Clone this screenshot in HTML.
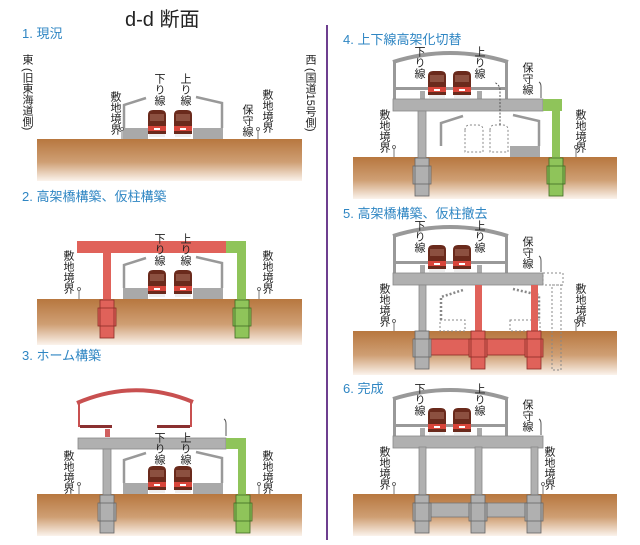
<!DOCTYPE html>
<html><head><meta charset="utf-8"><style>
html,body{margin:0;padding:0;background:#fff;}
svg{display:block;}
text{font-family:"Liberation Sans","Noto Sans CJK JP",sans-serif;}
.v{writing-mode:vertical-rl;font-size:11px;fill:#222;}
.t{font-size:13px;fill:#2f86c3;}
</style></head><body>
<svg id="s" width="640" height="545" viewBox="0 0 640 545" xmlns="http://www.w3.org/2000/svg">
<defs>
<linearGradient id="g" x1="0" y1="0" x2="0" y2="1">
<stop offset="0" stop-color="#b7773f"/><stop offset="0.55" stop-color="#cf9f74"/><stop offset="1" stop-color="#fbf3ec"/>
</linearGradient>
<g id="tr">
<path d="M0,5 Q0,0 5,0 H13 Q18,0 18,5 V24 H0 Z" fill="#6a2a1c"/>
<rect x="2" y="4" width="14" height="7" fill="#8c5040"/>
<rect x="0" y="16" width="18" height="5" fill="#d8453a"/>
<rect x="1" y="24" width="16" height="3" fill="#eee"/>
<rect x="6" y="18" width="6" height="2" fill="#fff"/>
</g>
<g id="trd" fill="none" stroke="#888" stroke-dasharray="2,2">
<path d="M0,5 Q0,0 5,0 H13 Q18,0 18,5 V27 H0 Z"/>
</g>
</defs>
<line x1="327" y1="25" x2="327" y2="540" stroke="#6d3f8f" stroke-width="2"/>
<text x="125" y="26" font-size="20" fill="#222">d-d 断面</text>
</svg>
<script>
var s=document.getElementById('s'),h='';
function R(x,y,w,hh,f,st){h+='<rect x="'+x+'" y="'+y+'" width="'+w+'" height="'+hh+'" fill="'+f+'"'+(st?' stroke="'+st+'" stroke-width="0.8"':'')+'/>';}
function T(x,y,t,c){h+='<text x="'+x+'" y="'+y+'" class="'+(c||'v')+'">'+t+'</text>';}
function ground(x1,x2,y,hh){R(x1,y,x2-x1,hh,'url(#g)');}
function train(x,y,d){h+='<use href="#'+(d?'trd':'tr')+'" x="'+x+'" y="'+y+'"/>';}
function post(x,y){h+='<line x1="'+x+'" y1="'+(y-9)+'" x2="'+x+'" y2="'+y+'" stroke="#555" stroke-width="0.8"/><circle cx="'+x+'" cy="'+(y-10)+'" r="1.5" fill="#fff" stroke="#555" stroke-width="0.8"/>';}
function oldSt(y,d){
 var s=d?' stroke-dasharray="2,2" stroke="#888"':' stroke="#999"';
 if(!d){R(123,y-11,25,11,'#a9a9a9');R(193,y-11,30,11,'#a9a9a9');}
 else{h+='<rect x="123" y="'+(y-11)+'" width="25" height="11" fill="none"'+s+'/><rect x="193" y="'+(y-11)+'" width="30" height="11" fill="none"'+s+'/>';}
 h+='<path d="M124,'+(y-11)+' V'+(y-34)+' L146,'+(y-41)+'" fill="none" stroke-width="2.5"'+s+'/>';
 h+='<path d="M196,'+(y-42)+' L222,'+(y-36)+' V'+(y-11)+'" fill="none" stroke-width="2.5"'+s+'/>';
}
function pile(x,y,c,sc){R(x+2,y,14,38,c);R(x,y+8,18,18,c,sc);R(x+2,y,14,38,'none',sc);}
// Panel 1
T(22,38,'1. 現況','t');
T(27,54,'東');T(27,68,'(旧東海道側)');
T(310,54,'西');T(310,68,'(国道15号側)');
ground(37,302,139,42);
oldSt(139);train(148,110);train(174,110);
T(159,73,'下り線');T(185,73,'上り線');
T(115,91,'敷地境界');T(247,104,'保守線');T(267,89,'敷地境界');
post(122,139);post(258,139);
// Panel 2
T(22,201,'2. 高架橋構築、仮柱構築','t');
ground(37,302,299,46);
oldSt(299);train(148,270);train(174,270);
R(77,241,149,12,'#e0625a');R(226,241,20,12,'#8fc45a');
R(103,253,8,47,'#e0625a');R(237,253,9,47,'#8fc45a');
pile(98,300,'#e0625a','#8a2c26');pile(233,300,'#8fc45a','#3f6b22');
T(159,233,'下り線');T(185,233,'上り線');
T(68,250,'敷地境界');T(267,250,'敷地境界');
post(79,299);post(259,299);
// Panel 3
T(22,360,'3. ホーム構築','t');
ground(37,302,494,42);
oldSt(494);train(148,466);train(174,466);
h+='<path d="M77,403 Q135,378 193,402" fill="none" stroke="#c85050" stroke-width="4"/>';
R(78,403,2,24,'#c85050');R(190,403,2,24,'#c85050');
R(80,425,32,3,'#8a3030');R(157,425,33,3,'#8a3030');R(105,429,5,8,'#d06060');
h+='<path d="M224,419 Q226,420 226,424 V436" fill="none" stroke="#555"/>';
R(78,438,148,11,'#b0b0b0','#888');R(226,438,20,11,'#8fc45a');
R(103,449,8,46,'#b0b0b0','#888');R(238,449,8,46,'#8fc45a');
pile(98,495,'#b0b0b0','#666');pile(234,495,'#8fc45a','#3f6b22');
T(159,432,'下り線');T(185,432,'上り線');
T(68,450,'敷地境界');T(267,450,'敷地境界');
post(79,494);post(259,494);
function upper(dy){
 h+='<path d="M393,'+(62+dy)+' Q450,'+(44+dy)+' 508,'+(62+dy)+'" fill="none" stroke="#999" stroke-width="4"/>';
 R(393,62+dy,3,38,'#999');R(505,62+dy,3,38,'#999');
 R(396,87+dy,112,3,'#999');
 R(420,91+dy,5,8,'#aaa');R(477,91+dy,5,8,'#aaa');
 train(428,71+dy);train(453,71+dy);
 h+='<path d="M539,'+(82+dy)+' Q541,'+(83+dy)+' 541,'+(87+dy)+' V'+(98+dy)+'" fill="none" stroke="#555"/>';
 R(393,99+dy,150,12,'#b0b0b0','#888');
 T(419,46+dy,'下り線');T(479,46+dy,'上り線');T(527,62+dy,'保守線');
}
// Panel 4
T(343,44,'4. 上下線高架化切替','t');
ground(353,617,157,42);
upper(0);
R(543,99,19,12,'#8fc45a');R(552,111,8,47,'#8fc45a');
R(418,111,8,47,'#b0b0b0','#888');
pile(413,158,'#b0b0b0','#666');pile(547,158,'#8fc45a','#3f6b22');
h+='<g transform="translate(317,18)">';oldSt(139);h+='</g>';
R(440,146,25,11,'#fff');R(470,146,25,11,'#fff');
train(465,125,1);train(490,125,1);
h+='<path d="M500,125 V90 Q500,85 494,82" fill="none" stroke="#555" stroke-dasharray="2,1.5"/>';
T(384,109,'敷地境界');T(580,109,'敷地境界');
post(394,157);post(576,157);
// Panel 5
T(343,218,'5. 高架橋構築、仮柱撤去','t');
ground(353,617,331,44);
upper(174);
h+='<rect x="543" y="273" width="20" height="12" fill="none" stroke="#888" stroke-dasharray="2,2"/>';
h+='<rect x="552" y="285" width="9" height="85" fill="none" stroke="#888" stroke-dasharray="2,2"/>';
h+='<g transform="translate(317,192)">';oldSt(139,1);h+='</g>';
R(419,285,7,47,'#b0b0b0','#888');R(475,285,7,47,'#e0625a');R(531,285,7,47,'#e0625a');
R(414,339,128,16,'#e0625a','#8a2c26');
pile(413,331,'#b0b0b0','#666');pile(469,331,'#e0625a','#8a2c26');pile(525,331,'#e0625a','#8a2c26');
T(384,283,'敷地境界');T(580,283,'敷地境界');
post(394,331);post(576,331);
// Panel 6
T(343,393,'6. 完成','t');
ground(353,617,494,42);
upper(337);
R(419,447,7,48,'#b0b0b0','#888');R(475,447,7,48,'#b0b0b0','#888');R(531,447,7,48,'#b0b0b0','#888');
R(414,503,128,14,'#b0b0b0','#777');
pile(413,495,'#b0b0b0','#666');pile(469,495,'#b0b0b0','#666');pile(525,495,'#b0b0b0','#666');
T(384,446,'敷地境界');T(549,446,'敷地境界');
post(394,494);post(543,494);
s.insertAdjacentHTML('beforeend',h);
</script>
</body></html>
